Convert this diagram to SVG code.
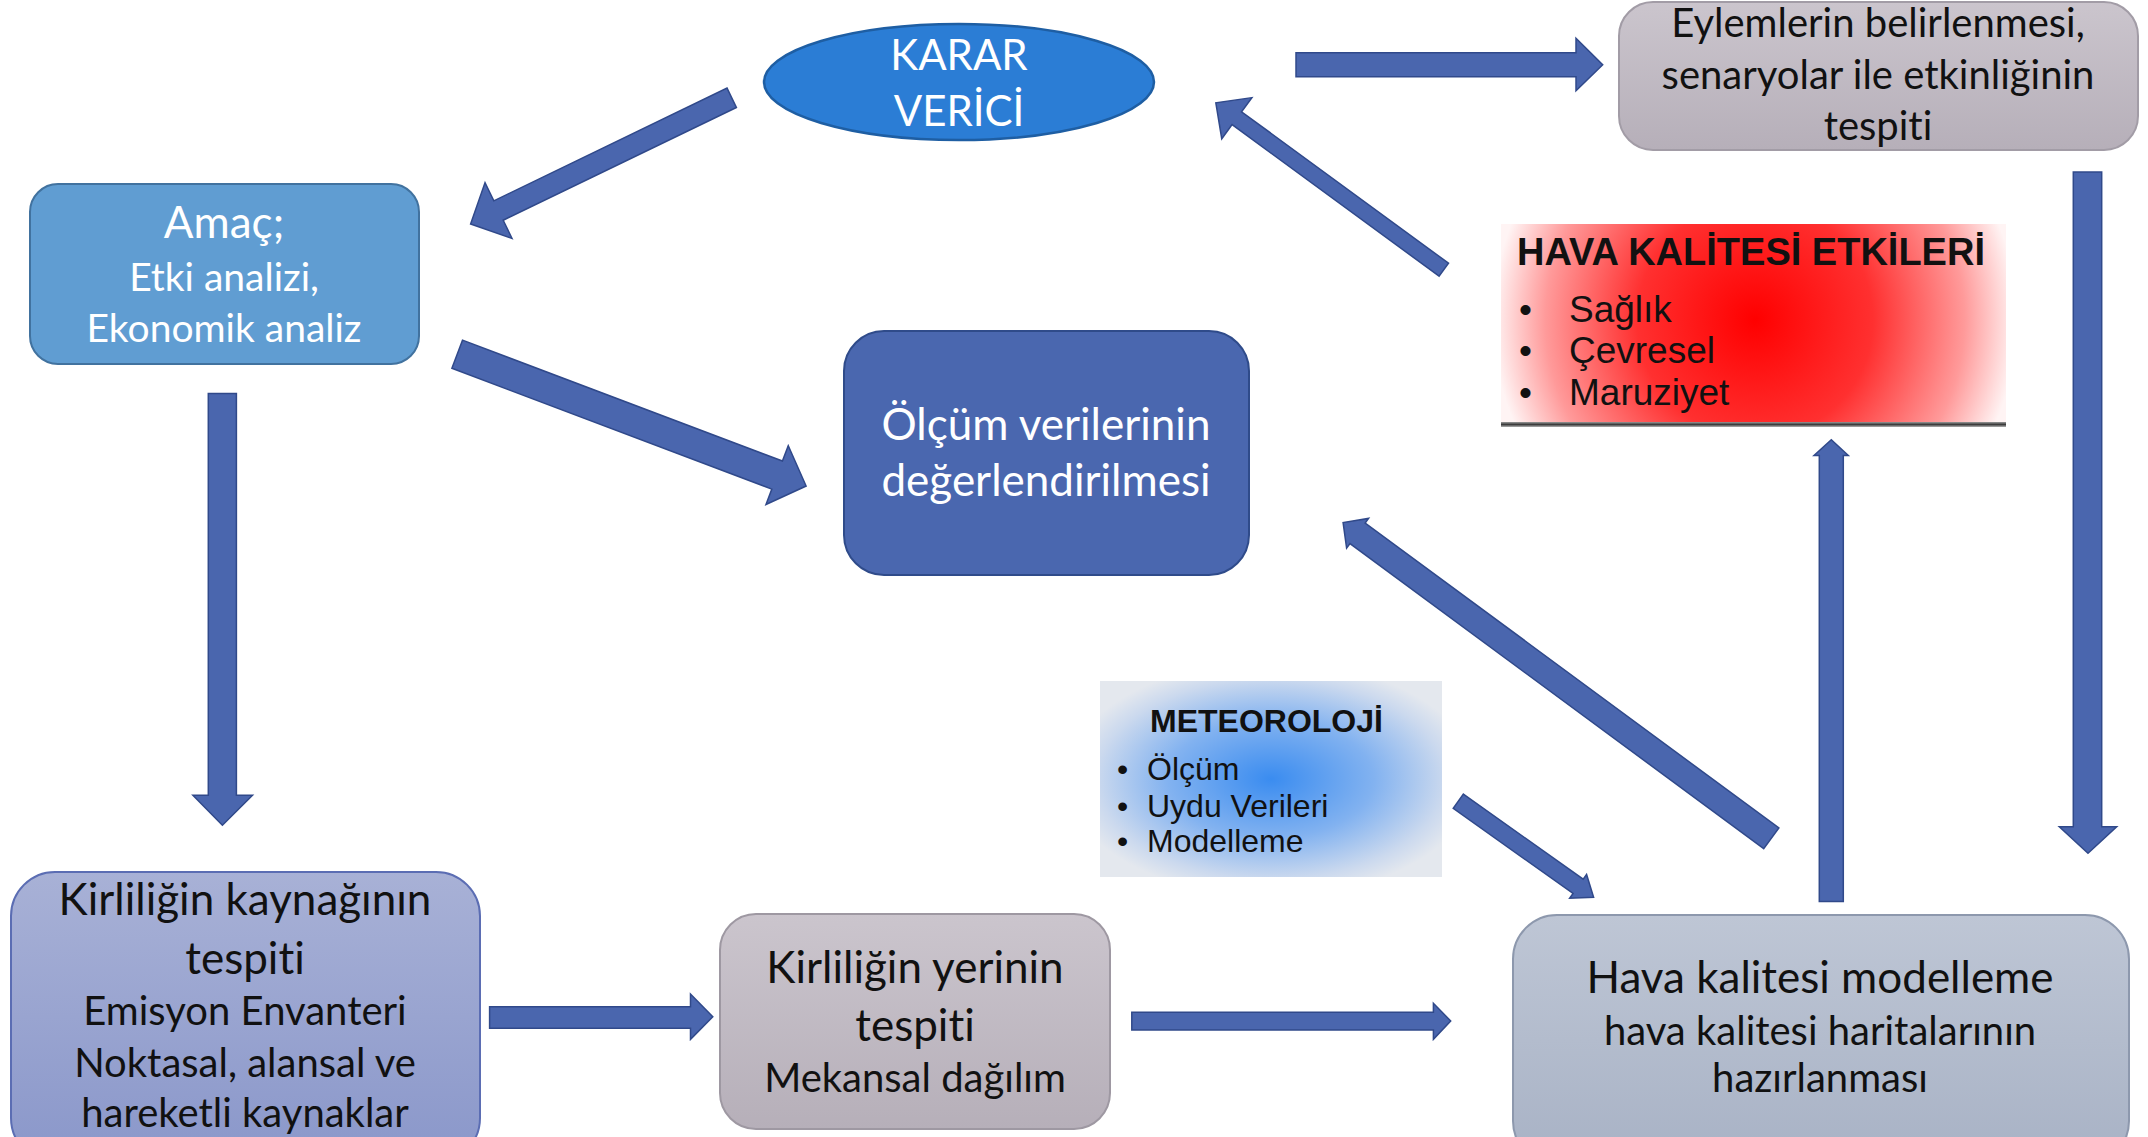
<svg xmlns="http://www.w3.org/2000/svg" width="2148" height="1137" viewBox="0 0 2148 1137">
  <style>
    .cal { font-family: Lato, "Open Sans", "Liberation Sans", sans-serif; text-anchor: middle; font-variant-ligatures: none; }
    .w { fill: #ffffff; }
    .k { fill: #111111; }
    .ar { font-family: "Liberation Sans", Arial, sans-serif; fill: #111111; }
    .arb { font-family: "Liberation Sans", Arial, sans-serif; font-weight: bold; fill: #111111; }
    .arrow { fill: #4a66ae; stroke: #30498a; stroke-width: 1.5; stroke-linejoin: miter; }
  </style>
  <defs>
    <linearGradient id="gGray" x1="0" y1="0" x2="0" y2="1">
      <stop offset="0" stop-color="#cbc5cd"/>
      <stop offset="1" stop-color="#b6afb9"/>
    </linearGradient>
    <linearGradient id="gPurple" x1="0" y1="0" x2="0" y2="1">
      <stop offset="0" stop-color="#a8b1d6"/>
      <stop offset="1" stop-color="#8a97ca"/>
    </linearGradient>
    <linearGradient id="gSteel" x1="0" y1="0" x2="0" y2="1">
      <stop offset="0" stop-color="#bec6d5"/>
      <stop offset="1" stop-color="#a8b2c5"/>
    </linearGradient>
    <radialGradient id="gRed" gradientUnits="userSpaceOnUse" cx="1755" cy="320" r="262">
      <stop offset="0" stop-color="#ff0000"/>
      <stop offset="0.45" stop-color="#ff3030"/>
      <stop offset="0.8" stop-color="#ff9a9a"/>
      <stop offset="1" stop-color="#fff4f4"/>
    </radialGradient>
    <radialGradient id="gBlue" cx="0.5" cy="0.5" r="0.6">
      <stop offset="0" stop-color="#3a8cf0"/>
      <stop offset="0.5" stop-color="#82b2f0"/>
      <stop offset="0.85" stop-color="#cbd9ee"/>
      <stop offset="1" stop-color="#e4e8ee"/>
    </radialGradient>
    <linearGradient id="gRule" x1="0" y1="0" x2="0" y2="1">
      <stop offset="0" stop-color="#9a9a9a"/>
      <stop offset="0.5" stop-color="#3c3c3c"/>
      <stop offset="1" stop-color="#b0b0b0"/>
    </linearGradient>
  </defs>

  <rect width="2148" height="1137" fill="#ffffff"/>

  <!-- connectors: block arrows -->
  <g id="connectors">
    <path class="arrow" transform="translate(731.7,97.8) rotate(154.2)" d="M0,-10.75 H259 V-31 L290,0 L259,31 V10.75 H0 Z"/>
    <path class="arrow" d="M1296,52.7 H1576 V38.3 L1602.7,64.7 L1576,90.7 V76.7 H1296 Z"/>
    <path class="arrow" transform="translate(1443.8,269.7) rotate(-143.8)" d="M0,-8 H256.5 V-25.5 L282.5,0 L256.5,25.5 V8 H0 Z"/>
    <path class="arrow" transform="translate(457.2,354.2) rotate(20.7)" d="M0,-15 H342 V-31.5 L373,0 L342,31.5 V15 H0 Z"/>
    <path class="arrow" d="M208.3,393.5 V795.3 H192.9 L222.4,825.2 L252.5,795.3 H236.4 V393.5 Z"/>
    <path class="arrow" d="M2073.3,172 V826.8 H2059.3 L2088,853.3 L2116.7,826.8 H2101.7 V172 Z"/>
    <path class="arrow" d="M1819.3,901.5 V455.5 H1814 L1831.3,439.8 L1848.3,455.5 H1843.3 V901.5 Z"/>
    <path class="arrow" transform="translate(1771.3,838.3) rotate(-143.6)" d="M0,-12.8 H514 V-18.5 L532,0 L514,18.5 V12.8 H0 Z"/>
    <path class="arrow" transform="translate(1458.3,801.2) rotate(35.4)" d="M0,-8.75 H147 V-14.6 L166,0 L147,14.6 V8.75 H0 Z"/>
    <path class="arrow" d="M489.6,1006.7 H690.5 V994 L712.8,1016.7 L690.5,1039.3 V1028.3 H489.6 Z"/>
    <path class="arrow" d="M1131.8,1012.3 H1433.4 V1003.3 L1450.7,1021 L1433.4,1039.3 V1030 H1131.8 Z"/>
  </g>

  <!-- decision maker -->
  <g id="karar-verici">
    <ellipse cx="959" cy="82" rx="195" ry="58" fill="#2b7dd5" stroke="#1e5ea3" stroke-width="2.5"/>
    <text class="cal w" x="959" y="70" font-size="42">KARAR</text>
    <text class="cal w" x="959" y="126" font-size="42">VERİCİ</text>
  </g>

  <g id="amac">
    <rect x="30" y="184" width="389" height="180" rx="28" fill="#609dd2" stroke="#41729f" stroke-width="2"/>
    <text class="cal w" x="224" y="238" font-size="44">Amaç;</text>
    <text class="cal w" x="224" y="291" font-size="39">Etki analizi,</text>
    <text class="cal w" x="224" y="342" font-size="39">Ekonomik analiz</text>
  </g>

  <g id="olcum">
    <rect x="844" y="331" width="405" height="244" rx="40" fill="#4a67af" stroke="#2f4b8a" stroke-width="2"/>
    <text class="cal w" x="1046" y="440" font-size="44">Ölçüm verilerinin</text>
    <text class="cal w" x="1046" y="496" font-size="44">değerlendirilmesi</text>
  </g>

  <g id="eylemler">
    <rect x="1619" y="2" width="519" height="148" rx="34" fill="url(#gGray)" stroke="#a29ca6" stroke-width="2"/>
    <text class="cal k" x="1878" y="37" font-size="40">Eylemlerin belirlenmesi,</text>
    <text class="cal k" x="1878" y="89" font-size="40">senaryolar ile etkinliğinin</text>
    <text class="cal k" x="1878" y="140" font-size="40">tespiti</text>
  </g>

  <g id="hava-kalitesi-etkileri">
    <rect x="1501" y="224" width="505" height="199" fill="url(#gRed)"/>
    <rect x="1501" y="422" width="505" height="5" fill="url(#gRule)"/>
    <text class="arb" x="1517" y="265" font-size="38">HAVA KALİTESİ ETKİLERİ</text>
    <text class="ar" x="1519" y="322" font-size="37">•</text>
    <text class="ar" x="1569" y="322" font-size="37">Sağlık</text>
    <text class="ar" x="1519" y="363" font-size="37">•</text>
    <text class="ar" x="1569" y="363" font-size="37">Çevresel</text>
    <text class="ar" x="1519" y="405" font-size="37">•</text>
    <text class="ar" x="1569" y="405" font-size="37">Maruziyet</text>
  </g>

  <g id="meteoroloji">
    <rect x="1100" y="681" width="342" height="196" fill="url(#gBlue)"/>
    <text class="arb" x="1150" y="732" font-size="32">METEOROLOJİ</text>
    <text class="ar" x="1117" y="780" font-size="32">•</text>
    <text class="ar" x="1147" y="780" font-size="32">Ölçüm</text>
    <text class="ar" x="1117" y="817" font-size="32">•</text>
    <text class="ar" x="1147" y="817" font-size="32">Uydu Verileri</text>
    <text class="ar" x="1117" y="852" font-size="32">•</text>
    <text class="ar" x="1147" y="852" font-size="32">Modelleme</text>
  </g>

  <g id="kirlilik-kaynagi">
    <rect x="11" y="872" width="469" height="290" rx="44" fill="url(#gPurple)" stroke="#5b6db3" stroke-width="2"/>
    <text class="cal k" x="245" y="915" font-size="44">Kirliliğin kaynağının</text>
    <text class="cal k" x="245" y="974" font-size="44">tespiti</text>
    <text class="cal k" x="245" y="1025" font-size="40">Emisyon Envanteri</text>
    <text class="cal k" x="245" y="1077" font-size="40">Noktasal, alansal ve</text>
    <text class="cal k" x="245" y="1127" font-size="40">hareketli kaynaklar</text>
  </g>

  <g id="kirlilik-yeri">
    <rect x="720" y="914" width="390" height="215" rx="36" fill="url(#gGray)" stroke="#9e98a2" stroke-width="2"/>
    <text class="cal k" x="915" y="983" font-size="44">Kirliliğin yerinin</text>
    <text class="cal k" x="915" y="1041" font-size="44">tespiti</text>
    <text class="cal k" x="915" y="1092" font-size="40">Mekansal dağılım</text>
  </g>

  <g id="hava-kalitesi-modelleme">
    <rect x="1513" y="915" width="616" height="250" rx="44" fill="url(#gSteel)" stroke="#8d98ad" stroke-width="2"/>
    <text class="cal k" x="1820" y="993" font-size="44">Hava kalitesi modelleme</text>
    <text class="cal k" x="1820" y="1045" font-size="40">hava kalitesi haritalarının</text>
    <text class="cal k" x="1820" y="1092" font-size="40">hazırlanması</text>
  </g>
</svg>
